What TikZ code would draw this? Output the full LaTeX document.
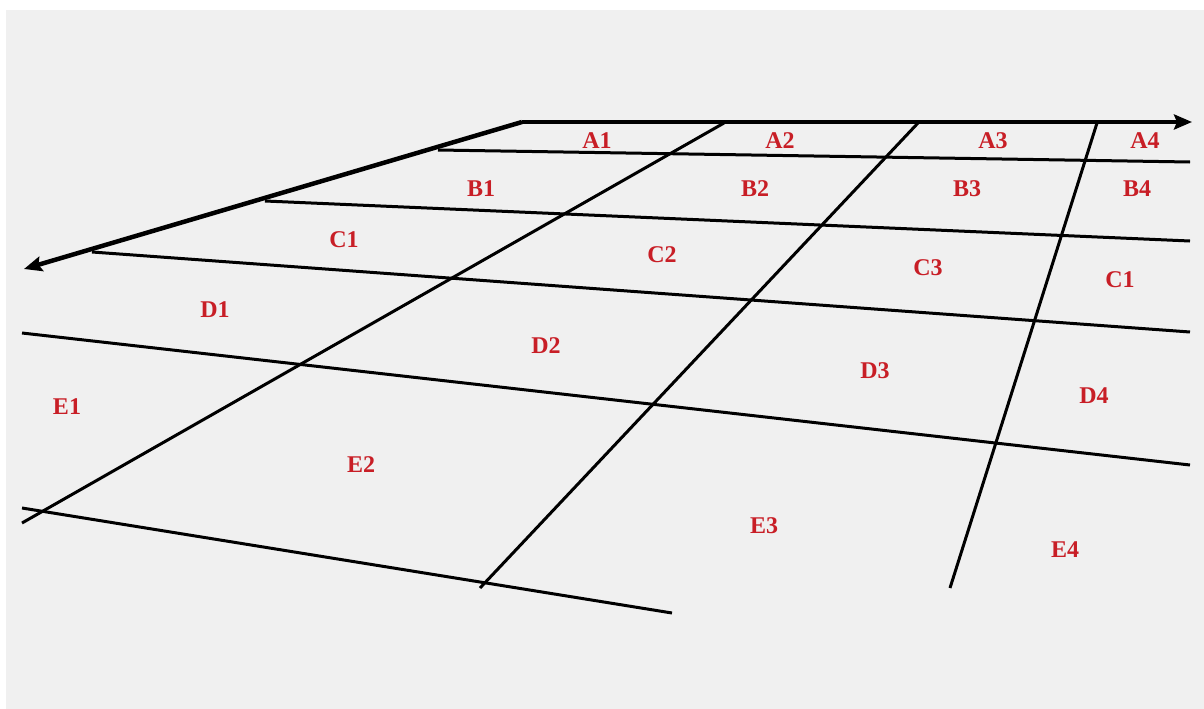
\documentclass[tikz,border=0pt]{standalone}
\usepackage{fontspec}
\setmainfont{Liberation Serif}
\usetikzlibrary{arrows.meta}
\definecolor{bgray}{HTML}{F0F0F0}
\definecolor{lbl}{RGB}{200,30,38}
\tikzset{
  gridline/.style={line width=3pt, black},
  axisline/.style={line width=4.5pt, black, -{Stealth[length=18pt,width=15pt,inset=3pt]}},
  cell/.style={text=lbl, font=\bfseries\fontsize{24}{24}\selectfont, inner sep=0pt}
}
\begin{document}
\begin{tikzpicture}[x=1pt,y=-1pt]
\useasboundingbox (0,0) rectangle (1204,709);
\fill[white] (0,0) rectangle (1204,709);
\fill[bgray] (6,10) rectangle (1204,709);
% coordinates
\coordinate (O) at (522,122);
\coordinate (Xend) at (1192,122);
\coordinate (Yend) at (24,269);
\coordinate (B0) at (438,150); \coordinate (B1) at (1190,162);
\coordinate (C0) at (265,201); \coordinate (C1) at (1190,241);
\coordinate (D0) at (92,252);  \coordinate (D1) at (1190,332);
\coordinate (E0) at (22,333);  \coordinate (E1) at (1190,465);
\coordinate (F0) at (22,508);  \coordinate (F1) at (672,613);
\coordinate (V1a) at (724,123); \coordinate (V1b) at (22,523);
\coordinate (V2a) at (918,123); \coordinate (V2b) at (480,588);
\coordinate (V3a) at (1097,123); \coordinate (V3b) at (950,588);
% grid lines
\draw[gridline] (B0) -- (B1);
\draw[gridline] (C0) -- (C1);
\draw[gridline] (D0) -- (D1);
\draw[gridline] (E0) -- (E1);
\draw[gridline] (F0) -- (F1);
\draw[gridline] (V1a) -- (V1b);
\draw[gridline] (V2a) -- (V2b);
\draw[gridline] (V3a) -- (V3b);
% axes
\draw[axisline] (O) -- (Xend);
\draw[axisline] (O) -- (Yend);
% labels
\node[cell] (a1) at (597,141) {A1};
\node[cell] (a2) at (780,141) {A2};
\node[cell] (a3) at (993,141) {A3};
\node[cell] (a4) at (1145,141) {A4};
\node[cell] (b1) at (481,189) {B1};
\node[cell] (b2) at (755,189) {B2};
\node[cell] (b3) at (967,189) {B3};
\node[cell] (b4) at (1137,189) {B4};
\node[cell] (c1) at (344,240) {C1};
\node[cell] (c2) at (662,255) {C2};
\node[cell] (c3) at (928,268) {C3};
\node[cell] (c4) at (1120,280) {C1};
\node[cell] (d1) at (215,310) {D1};
\node[cell] (d2) at (546,346) {D2};
\node[cell] (d3) at (875,371) {D3};
\node[cell] (d4) at (1094,396) {D4};
\node[cell] (e1) at (67,407) {E1};
\node[cell] (e2) at (361,465) {E2};
\node[cell] (e3) at (764,526) {E3};
\node[cell] (e4) at (1065,550) {E4};
\end{tikzpicture}
\end{document}
